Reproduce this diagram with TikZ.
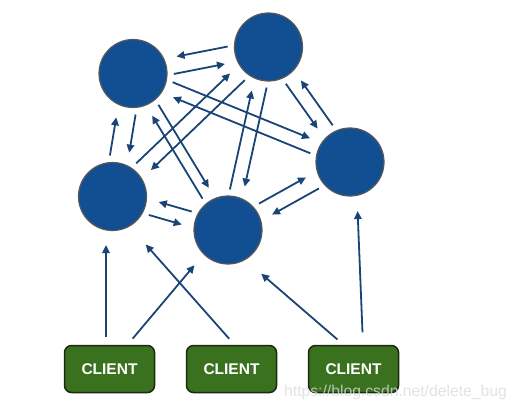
\documentclass[tikz,border=0pt]{standalone}
\usepackage{fontspec}
\setmainfont{Liberation Sans}
\usetikzlibrary{arrows.meta,calc}

\definecolor{peerblue}{RGB}{17,79,146}
\definecolor{linkblue}{RGB}{24,68,118}
\definecolor{clientgreen}{RGB}{57,113,30}
\definecolor{clientedge}{RGB}{28,42,18}

\begin{document}
\begin{tikzpicture}[x=1pt,y=-1pt,
  peer/.style={circle,draw=black!65,line width=1.2pt,fill=peerblue,minimum size=68pt,inner sep=0pt},
  client/.style={rectangle,rounded corners=7pt,draw=clientedge,line width=1.5pt,fill=clientgreen,
    minimum width=90pt,minimum height=47pt,text=white,font=\fontsize{15.5}{18}\selectfont\bfseries},
  link/.style={linkblue,line width=1.8pt,-{Triangle[length=8pt,width=7.5pt]},shorten <=40pt,shorten >=46pt}]
\useasboundingbox (0,0) rectangle (517,410);

% Peers
\node[peer] (A) at (133,73.5) {};
\node[peer] (B) at (268.5,47) {};
\node[peer] (C) at (350,162) {};
\node[peer] (D) at (112.5,196.5) {};
\node[peer] (E) at (228,230) {};

% Clients
\node[client] (c1) at (109.5,369) {CLIENT};
\node[client] (c2) at (231.5,369) {CLIENT};
\node[client] (c3) at (353.5,369) {CLIENT};

% Peer links, two per pair (side and half spacing)
\foreach \a/\b/\s/\t/\off in {A/B/-90/90/8.3pt, B/C/-90/90/7.1pt, D/E/-90/90/7.6pt,
                               A/D/90/-90/9.3pt, A/C/90/-90/6.9pt, B/D/90/-90/7.5pt,
                               A/E/90/-90/5.5pt, B/E/90/-90/6.9pt, C/E/90/-90/8pt} {
  \draw[link] ($(\a)!\off!\s:(\b)$) -- ($(\b)!\off!\t:(\a)$);
  \draw[link] ($(\b)!\off!\s:(\a)$) -- ($(\a)!\off!\t:(\b)$);
}

% Client links
\draw[link,shorten <=8pt,shorten >=14pt] ([xshift=-3.5pt]c1.north) -- ([xshift=-6.5pt]D.south);
\draw[link,shorten <=8pt,shorten >=14pt] ([xshift=18pt]c1.north) -- (E.225);
\draw[link,shorten <=8pt,shorten >=24pt] ([xshift=3pt]c2.north) -- (D.-60);
\draw[link,shorten <=8pt,shorten >=21pt] ([xshift=-10pt]c3.north) -- (E.-60);
\draw[link,shorten <=12.5pt,shorten >=14.5pt] ([xshift=9.5pt]c3.north) -- ([xshift=7pt]C.south);

% Watermark
\node[anchor=base west,text=black!14,opacity=0.8,font=\fontsize{15.7}{18}\selectfont,inner sep=0pt] (wm) at (284,396) {https://blog.csdn.net/delete\_bug};
\end{tikzpicture}
\end{document}
